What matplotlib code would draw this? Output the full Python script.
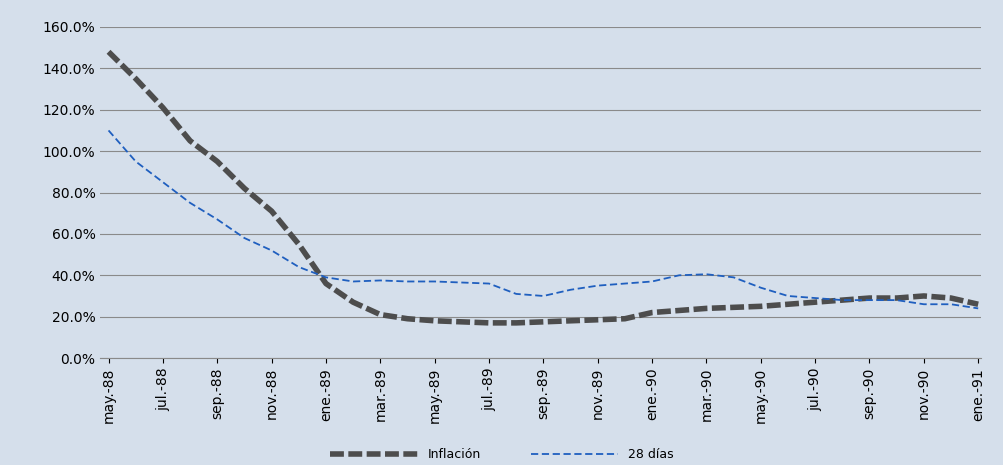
import matplotlib.pyplot as plt
from matplotlib.ticker import FuncFormatter

meses = ["may", "jun", "jul", "ago", "sep", "oct", "nov", "dic", "ene", "feb", "mar", "abr"]
etiquetas = []
anio = 88
for k in range(33):
    m = meses[k % 12]
    if m == "ene" and k > 0:
        anio += 1
    etiquetas.append(f"{m}.-{anio}")

inflacion = [148, 135, 121, 105, 95, 82, 71, 55, 36, 27, 21, 19, 18, 17.5, 17, 17, 17.5,
             18, 18.5, 19, 22, 23, 24, 24.5, 25, 26, 27, 28, 29, 29, 30, 29, 26]
dias28 = [110, 95, 85, 75, 67, 58, 52, 44, 39, 37, 37.5, 37, 37, 36.5, 36, 31, 30,
          33, 35, 36, 37, 40, 40.5, 39, 34, 30, 29, 28, 28, 28, 26, 26, 24]

bg = "#d5dfeb"
fig, ax = plt.subplots(figsize=(10.04, 4.65), dpi=100)
fig.patch.set_facecolor(bg)
ax.set_facecolor(bg)
x = list(range(len(etiquetas)))
ax.plot(x, inflacion, color="#4d4d4d", lw=4, ls=(0, (2.5, 0.8)), label="Inflación")
ax.plot(x, dias28, color="#1f5fbf", lw=1.3, ls=(0, (4, 2)), label="28 días")
ax.set_ylim(0, 160)
ax.set_yticks(range(0, 161, 20))
ax.yaxis.set_major_formatter(FuncFormatter(lambda v, p: f"{v:.1f}%"))
ax.set_xlim(-0.3, 32.1)
ax.set_xticks(x[::2])
ax.set_xticklabels(etiquetas[::2], rotation=90, fontsize=10)
ax.tick_params(axis="y", labelsize=10, length=0)
ax.grid(axis="y", color="#8a8a8a", lw=0.8)
ax.set_axisbelow(True)
for s in ["top", "right", "left"]:
    ax.spines[s].set_visible(False)
ax.spines["bottom"].set_color("#8a8a8a")
fig.legend(*ax.get_legend_handles_labels(), loc="lower center", bbox_to_anchor=(0.5, -0.01),
           ncol=2, frameon=False, fontsize=9, handlelength=7, columnspacing=4,
           borderpad=0.2)
plt.subplots_adjust(left=0.1, right=0.977, top=0.942, bottom=0.23)
plt.savefig("out.png", facecolor=bg)
